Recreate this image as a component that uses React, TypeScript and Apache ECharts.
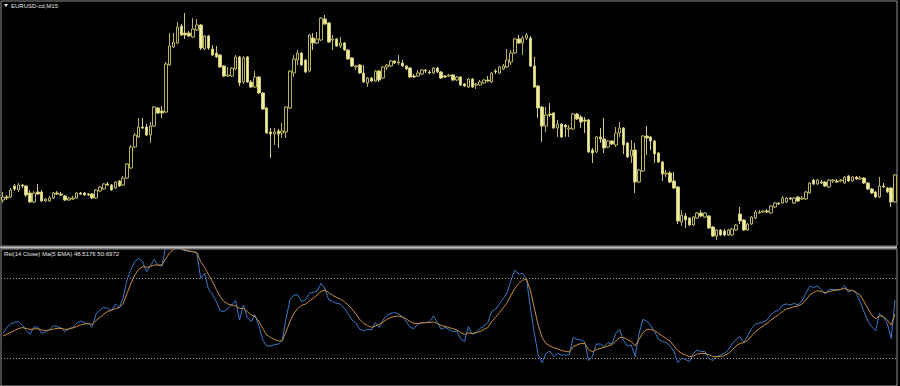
import React, { useEffect, useRef } from "react";
import * as echarts from "echarts";

const PRICE_TOP = 1.1;
const PIP = 0.0001;

const openDepth = [
  200,197,197,186,190,185,186,193,202,192,
  192,201,201,198,193,194,196,200,199,198,
  193,193,194,194,198,191,189,184,185,188,
  181,185,178,168,147,137,127,127,135,126,
  108,111,112,65,47,43,26,33,33,37,
  30,25,49,36,49,53,55,66,76,76,
  69,57,82,57,82,87,77,93,108,132,
  134,131,133,132,108,73,60,53,60,71,
  38,43,40,19,23,40,39,46,43,50,
  58,67,65,73,83,78,81,71,78,67,
  66,61,63,63,66,68,76,76,74,70,
  72,73,68,72,76,76,75,80,77,84,
  87,79,85,85,83,80,82,71,73,69,
  67,62,53,39,43,38,38,66,86,107,
  126,114,113,128,124,125,129,129,114,117,
  120,120,150,152,137,139,147,141,145,133,
  128,143,156,150,182,171,136,137,141,153,
  162,174,173,181,187,222,216,218,225,218,
  213,217,216,227,236,230,231,235,235,230,
  214,220,230,224,218,213,212,211,213,207,
  203,203,202,198,203,197,199,199,193,180,
  184,182,182,187,181,181,181,183,176,181,
  177,179,178,183,189,192,197,186,188,188,
  202,
];
const closeDepth = [
  197,198,190,189,185,186,195,202,193,194,
  201,199,198,193,194,195,200,198,198,193,
  194,195,195,198,190,187,184,185,190,182,
  186,178,164,147,135,127,128,135,126,107,
  113,113,64,46,42,27,35,35,36,29,
  25,48,36,48,55,57,67,76,75,68,
  57,83,58,82,87,77,93,109,133,134,
  132,134,131,107,71,59,53,65,72,35,
  43,39,18,24,42,39,46,43,50,59,
  66,66,73,82,78,81,71,80,67,65,
  61,63,62,66,69,77,77,73,70,71,
  73,68,72,78,77,75,80,77,85,86,
  79,87,84,82,80,81,73,72,67,66,
  60,53,39,43,38,35,66,87,108,126,
  115,115,128,124,137,127,128,114,119,122,
  121,152,153,137,139,148,141,144,133,128,
  145,157,150,182,170,136,138,141,154,162,
  174,173,182,188,221,215,220,225,217,213,
  216,213,228,236,230,235,235,230,229,225,
  221,230,224,217,212,212,211,212,206,203,
  204,198,198,199,198,201,198,192,183,184,
  180,183,186,180,180,182,180,177,181,177,
  179,178,183,189,193,197,186,187,192,202,
  175,
];
const highDepth = [
  192,195,188,184,183,184,185,190,191,184,
  190,198,196,192,191,192,195,197,196,192,
  192,192,193,193,189,186,183,182,184,181,
  180,176,163,145,133,118,118,124,122,106,
  107,106,62,33,33,22,24,13,31,18,
  19,24,35,35,45,46,54,65,67,67,
  55,56,56,56,80,71,76,92,107,128,
  128,129,123,106,70,55,50,52,59,34,
  33,32,17,15,22,35,38,37,42,49,
  57,65,64,65,77,77,70,70,66,64,
  60,60,55,60,65,67,74,70,69,69,
  70,67,67,71,75,74,74,76,76,83,
  78,78,83,80,79,76,72,69,66,64,
  49,50,38,35,36,33,36,57,85,106,
  107,103,112,120,123,124,125,113,113,115,
  117,119,148,136,128,118,140,140,127,122,
  127,142,140,143,169,135,126,136,140,152,
  161,170,171,172,186,210,213,217,216,212,
  210,212,215,226,229,229,229,229,228,224,
  207,219,223,216,210,210,210,209,205,202,
  202,196,197,197,197,196,196,191,182,179,
  179,180,181,179,179,179,179,176,175,176,
  176,176,177,182,188,191,177,183,187,187,
  174,
];
const lowDepth = [
  203,200,198,191,192,188,197,203,203,195,
  202,202,202,199,195,196,201,201,200,199,
  195,196,196,199,199,192,190,186,191,189,
  187,186,179,169,148,138,129,136,143,127,
  114,118,113,66,48,44,36,39,37,38,
  31,50,50,50,56,58,68,77,77,77,
  70,86,84,83,88,88,94,110,134,158,
  145,148,138,138,109,77,65,66,73,72,
  50,44,41,25,43,50,47,48,51,60,
  67,70,74,83,87,82,82,82,79,70,
  67,64,65,67,70,78,78,77,75,73,
  74,74,73,79,78,77,81,81,86,87,
  88,88,89,86,84,82,83,74,74,70,
  68,65,54,44,55,40,67,88,118,142,
  132,117,129,137,138,137,137,130,120,128,
  133,153,163,153,143,153,148,145,147,137,
  154,158,163,193,183,172,155,150,163,163,
  181,177,183,189,224,226,228,226,226,219,
  217,218,229,237,240,236,236,236,236,231,
  224,231,231,225,219,214,213,213,214,208,
  205,204,203,200,204,202,200,200,194,185,
  185,184,187,188,183,183,182,184,182,182,
  180,180,184,190,194,198,198,188,193,207,
  203,
];

const rsi = [
  42.3,45.3,47.0,47.8,48.2,46.5,43.7,41.8,45.7,45.3,
  42.3,43.0,44.3,46.2,45.7,45.0,43.2,44.7,45.3,47.3,
  48.5,47.7,47.0,45.3,52.0,54.0,55.3,54.8,53.7,57.0,
  55.2,60.3,69.0,74.3,78.2,79.8,78.2,73.2,76.0,79.3,
  76.3,76.0,85.7,86.5,85.7,85.3,84.3,83.7,83.2,83.2,
  82.3,69.8,72.3,64.3,62.0,58.2,53.7,53.2,54.8,56.5,
  58.7,49.0,56.5,50.3,48.2,51.5,46.0,39.0,36.0,36.0,
  36.7,37.0,38.7,49.8,59.0,61.5,61.5,58.2,59.0,62.3,
  62.8,63.5,67.3,64.8,59.0,58.3,57.3,57.0,54.8,52.0,
  49.0,47.7,44.3,43.7,44.3,44.0,47.7,45.3,49.0,51.3,
  52.3,52.7,52.0,50.7,48.2,45.3,44.7,47.0,47.7,47.7,
  48.2,51.0,47.7,44.3,45.3,44.3,43.2,43.5,39.5,38.2,
  45.7,41.8,42.7,44.8,46.0,47.7,53.2,54.5,57.0,59.8,
  62.7,69.0,74.0,71.8,72.3,69.3,54.8,42.3,31.5,27.7,
  32.3,33.5,30.7,32.3,31.5,31.5,31.5,40.3,39.3,39.0,
  38.2,28.7,31.0,37.0,37.0,35.7,37.7,37.0,42.3,44.3,
  38.7,36.0,36.5,30.7,42.3,49.3,48.5,46.3,43.2,39.3,
  38.2,37.8,36.0,33.2,27.7,29.8,29.3,28.2,32.3,34.0,
  33.2,33.2,29.8,28.7,30.7,31.5,32.3,34.0,37.0,39.3,
  40.7,37.7,41.0,44.8,47.0,47.5,48.0,49.0,51.7,53.2,
  53.8,56.5,57.0,56.5,57.3,56.5,58.5,62.3,66.0,65.2,
  66.0,64.0,62.0,64.3,64.3,64.0,64.3,66.2,63.0,64.0,
  62.3,58.2,53.2,48.5,45.7,43.7,52.3,50.3,47.3,39.8,
  59.0,
];
const rsiMa = [
  41.0,41.8,42.8,43.8,44.7,45.2,44.8,44.3,44.5,44.7,
  44.0,43.8,44.0,44.5,44.8,44.8,44.3,44.5,45.0,45.7,
  46.5,47.0,47.2,46.8,48.7,50.3,52.0,53.3,53.8,54.7,
  55.2,57.3,62.3,67.3,71.5,74.3,75.7,75.3,75.7,76.5,
  76.5,76.5,79.8,82.7,84.3,85.3,84.8,84.0,83.5,83.2,
  82.8,78.2,75.3,71.8,68.2,64.3,60.7,58.2,57.0,56.5,
  56.0,54.8,54.8,53.2,51.5,50.7,48.2,44.8,41.5,40.3,
  39.3,38.5,38.7,43.2,48.2,52.3,54.8,56.3,57.0,58.5,
  59.8,61.5,63.2,64.0,62.7,61.3,60.3,59.5,58.2,56.5,
  54.5,52.0,49.3,47.3,46.3,45.3,46.0,46.8,48.0,49.3,
  50.3,50.8,51.0,50.5,49.5,48.2,47.3,47.3,47.5,47.7,
  47.7,48.0,47.3,46.2,45.8,45.2,44.7,44.0,42.7,41.8,
  42.5,42.3,42.7,43.2,44.3,45.2,48.2,50.3,52.7,55.2,
  57.7,61.5,64.8,67.3,69.0,69.3,63.7,54.8,46.5,40.2,
  37.3,36.0,35.2,34.5,33.8,33.3,33.0,35.7,36.5,37.3,
  37.3,34.0,33.2,34.3,34.8,35.3,36.0,36.7,38.5,40.3,
  40.2,39.2,38.2,36.0,39.3,42.7,44.3,44.3,43.7,42.3,
  41.0,39.8,38.5,36.0,33.7,32.3,31.5,30.7,31.0,32.0,
  32.3,32.3,31.7,30.7,30.7,30.7,31.2,32.3,34.0,36.0,
  37.3,37.7,38.8,41.0,43.2,44.7,46.0,47.3,49.0,50.3,
  51.7,53.3,54.5,55.0,55.7,56.0,57.0,59.0,61.5,62.7,
  63.7,63.2,62.7,63.2,63.7,64.0,64.3,64.8,64.0,63.7,
  62.8,61.5,58.2,54.8,51.3,49.8,51.0,50.8,49.0,46.5,
  52.0,
];

const rsiLevels = [70, 30];
const symbolLabel = "EURUSD-cd,M15";
const rsiLabel = "Rsi(14 Close) Ma(5 EMA) 48.5176 50.6972";

const toPrice = (d: number) => +(PRICE_TOP - d * PIP).toFixed(4);

export default function App() {
  const ref = useRef<HTMLDivElement>(null);

  useEffect(() => {
    document.body.style.margin = "0";
    document.body.style.background = "#000";
    const chart = echarts.init(ref.current!, undefined, { renderer: "svg" });
    const categories = openDepth.map((_, i) => String(i + 1));
    const candles = openDepth.map((o, i) => [
      toPrice(o),
      toPrice(closeDepth[i]),
      toPrice(lowDepth[i]),
      toPrice(highDepth[i]),
    ]);
    const frame = "#8e8e8e";
    const font = '"Liberation Sans", Arial, sans-serif';

    chart.setOption({
      animation: false,
      backgroundColor: "#000000",
      grid: [
        { left: 1, right: 3, top: 1, height: 245, show: true, borderColor: frame, borderWidth: 1, backgroundColor: "#000" },
        { left: 1, right: 3, top: 249, height: 137, show: true, borderColor: frame, borderWidth: 1, backgroundColor: "#000" },
      ],
      xAxis: [0, 1].map((g) => ({
        type: "category",
        gridIndex: g,
        data: categories,
        boundaryGap: true,
        axisLine: { show: false },
        axisTick: { show: false },
        axisLabel: { show: false },
        splitLine: { show: false },
      })),
      yAxis: [
        { type: "value", gridIndex: 0, min: toPrice(246), max: toPrice(1), show: false, splitLine: { show: false } },
        { type: "value", gridIndex: 1, min: 16, max: 84.5, show: false, splitLine: { show: false } },
      ],
      series: [
        {
          type: "candlestick",
          xAxisIndex: 0,
          yAxisIndex: 0,
          data: candles,
          barWidth: 3,
          itemStyle: {
            color: "#000000",
            color0: "#f1eda0",
            borderColor: "#b9b25a",
            borderColor0: "#cfc876",
            borderColorDoji: "#c8c16c",
            borderWidth: 1,
          },
        },
        {
          type: "line",
          name: "RSI",
          xAxisIndex: 1,
          yAxisIndex: 1,
          data: rsi,
          showSymbol: false,
          symbol: "none",
          lineStyle: { color: "#3b78c9", width: 1 },
          markLine: {
            silent: true,
            symbol: ["none", "none"],
            label: { show: false },
            lineStyle: { color: "#9a9a9a", width: 1, type: [1, 2] },
            data: rsiLevels.map((v) => ({ yAxis: v })),
          },
          z: 2,
        },
        {
          type: "line",
          name: "MA",
          xAxisIndex: 1,
          yAxisIndex: 1,
          data: rsiMa,
          showSymbol: false,
          symbol: "none",
          lineStyle: { color: "#c98f3a", width: 1 },
          z: 3,
        },
      ],
      graphic: [
        { type: "rect", shape: { x: 0, y: 246.5, width: 897, height: 2 }, style: { fill: "#bdbdbd" }, z: 10 },
        { type: "polygon", shape: { points: [[4, 4], [8, 4], [6, 7]] }, style: { fill: "#e6e6e6" }, z: 10 },
        {
          type: "text",
          x: 11,
          y: 5.5,
          style: { text: symbolLabel, fill: "#e6e6e6", fontSize: 6, fontFamily: font, verticalAlign: "middle", align: "left" },
          z: 10,
        },
        {
          type: "text",
          x: 4,
          y: 254,
          style: { text: rsiLabel, fill: "#e6e6e6", fontSize: 6, fontFamily: font, verticalAlign: "middle", align: "left" },
          z: 10,
        },
      ],
    });

    return () => chart.dispose();
  }, []);

  return (
    <div
      ref={ref}
      style={{ position: "fixed", left: 0, top: 0, width: 900, height: 386, background: "#000" }}
    />
  );
}
